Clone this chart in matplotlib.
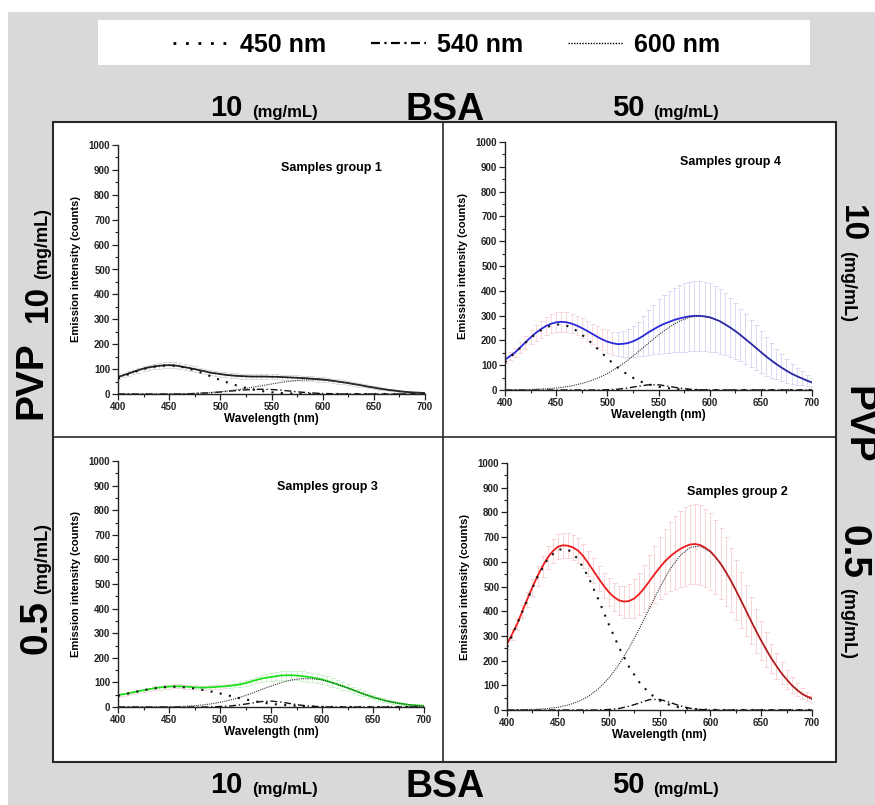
import matplotlib
matplotlib.use("Agg")
import matplotlib.pyplot as plt
from matplotlib.patches import Rectangle
from matplotlib.lines import Line2D
from matplotlib.ticker import MultipleLocator

plt.rcParams['font.family'] = ['Liberation Sans', 'DejaVu Sans']
plt.rcParams['font.weight'] = 'bold'

# wavelength grid of the fitted components (nm)
wl = [400, 410, 420, 430, 440, 450, 460, 470, 480, 490, 500, 510, 520, 530, 540, 550,
      560, 570, 580, 590, 600, 610, 620, 630, 640, 650, 660, 670, 680, 690, 700]
# wavelength grid of the measured spectra / error bars (nm)
wl5 = [400, 405, 410, 415, 420, 425, 430, 435, 440, 445,
       450, 455, 460, 465, 470, 475, 480, 485, 490, 495,
       500, 505, 510, 515, 520, 525, 530, 535, 540, 545,
       550, 555, 560, 565, 570, 575, 580, 585, 590, 595,
       600, 605, 610, 615, 620, 625, 630, 635, 640, 645,
       650, 655, 660, 665, 670, 675, 680, 685, 690, 695,
       700]

# Samples group 1 (BSA 10, PVP 10)
p450_1 = [63, 79, 94, 106, 113, 115, 111, 101, 88, 72, 56, 42, 29, 20, 12, 7, 4, 2, 1, 0,
          0, 0, 0, 0, 0, 0, 0, 0, 0, 0, 0]
p540_1 = [0, 0, 0, 0, 0, 0, 0, 1, 3, 5, 8, 12, 15, 18, 19, 18, 15, 11, 7, 4, 2, 1,
          0, 0, 0, 0, 0, 0, 0, 0, 0]
p600_1 = [0, 0, 0, 0, 0, 1, 1, 2, 4, 6, 9, 14, 19, 26, 33, 40, 47, 52, 56, 57, 56, 52,
          47, 40, 33, 26, 19, 14, 9, 6, 4]
tot_1 = [68, 75, 82, 89, 96, 102, 107, 110, 113, 115,
         116, 115, 112, 108, 104, 100, 95, 91, 86, 83,
         80, 77, 75, 73, 72, 71, 70, 70, 70, 70,
         69, 69, 68, 67, 66, 65, 64, 63, 61, 60,
         58, 56, 53, 50, 47, 44, 40, 37, 33, 29,
         26, 22, 19, 16, 14, 11, 9, 7, 6, 5,
         4]
err_1 = [8, 8, 9, 9, 10, 10, 11, 11, 12, 12,
         12, 12, 12, 12, 11, 11, 10, 10, 10, 10,
         10, 10, 10, 10, 10, 10, 10, 10, 10, 10,
         10, 10, 10, 10, 10, 10, 10, 10, 10, 10,
         10, 9, 9, 9, 8, 8, 7, 7, 6, 6,
         5, 5, 4, 4, 3, 3, 3, 2, 2, 2,
         2]

# Samples group 4 (BSA 50, PVP 10)
p450_4 = [112, 151, 191, 227, 253, 265, 260, 239, 207, 168, 128, 91, 61, 38, 23, 13, 7, 3,
          1, 0, 0, 0, 0, 0, 0, 0, 0, 0, 0, 0, 0]
p540_4 = [0, 0, 0, 0, 0, 0, 0, 0, 0, 0, 1, 3, 8, 15, 21, 21, 15, 8, 3, 1,
          0, 0, 0, 0, 0, 0, 0, 0, 0, 0, 0]
p600_4 = [0, 1, 1, 3, 5, 8, 13, 21, 32, 47, 66, 91, 120, 153, 188, 222, 252, 277, 293, 298,
          293, 277, 252, 222, 188, 153, 120, 91, 66, 47, 32]
tot_4 = [122, 137, 152, 172, 192, 212, 230, 245, 258, 267,
         273, 275, 273, 268, 260, 250, 239, 227, 215, 204,
         195, 189, 185, 186, 189, 196, 206, 218, 232, 244,
         256, 266, 274, 282, 288, 293, 297, 299, 299, 297,
         293, 286, 277, 265, 252, 238, 222, 205, 188, 171,
         153, 136, 120, 105, 91, 78, 66, 56, 47, 38,
         30]
err_4 = [12, 15, 18, 22, 25, 28, 32, 35, 38, 39,
         40, 40, 40, 40, 40, 40, 40, 41, 42, 43,
         45, 46, 48, 51, 55, 62, 70, 80, 90, 100,
         110, 118, 125, 130, 135, 138, 140, 140, 140, 139,
         138, 134, 130, 125, 120, 112, 105, 100, 95, 90,
         85, 78, 70, 62, 55, 48, 40, 34, 28, 23,
         18]

# Samples group 3 (BSA 10, PVP 0.5)
p450_3 = [45, 55, 64, 72, 78, 82, 82, 78, 72, 64, 55, 45, 35, 27, 19, 13, 9, 6, 4, 2, 1,
          0, 0, 0, 0, 0, 0, 0, 0, 0, 0]
p540_3 = [0, 0, 0, 0, 0, 0, 0, 0, 0, 0, 2, 4, 9, 15, 22, 24, 20, 13, 7, 3, 1,
          0, 0, 0, 0, 0, 0, 0, 0, 0, 0]
p600_3 = [0, 0, 0, 0, 1, 1, 2, 4, 7, 12, 19, 28, 40, 54, 70, 85, 99, 110, 115, 115, 110, 99,
          85, 70, 54, 40, 28, 19, 12, 7, 4]
tot_3 = [48, 52, 55, 60, 64, 68, 72, 76, 79, 81,
         83, 84, 84, 83, 82, 80, 79, 79, 80, 81,
         83, 84, 86, 89, 92, 97, 103, 109, 115, 119,
         122, 125, 128, 129, 129, 128, 126, 123, 120, 116,
         112, 106, 99, 92, 85, 78, 70, 62, 54, 47,
         40, 34, 28, 23, 19, 15, 12, 9, 7, 6,
         5]
err_3 = [6, 6, 6, 7, 7, 7, 7, 8, 8, 8,
         8, 8, 8, 8, 8, 8, 8, 8, 8, 8,
         8, 8, 9, 9, 10, 11, 12, 13, 14, 15,
         16, 17, 18, 18, 19, 19, 20, 20, 20, 20,
         19, 18, 17, 16, 15, 14, 13, 12, 11, 10,
         9, 8, 7, 6, 6, 5, 5, 4, 4, 3,
         3]

# Samples group 2 (BSA 50, PVP 0.5)
p450_2 = [255, 348, 447, 539, 611, 650, 650, 611, 539, 447, 348, 255, 175, 113, 68, 39, 21,
          10, 5, 2, 1, 0, 0, 0, 0, 0, 0, 0, 0, 0, 0]
p540_2 = [0, 0, 0, 0, 0, 0, 0, 0, 0, 0, 2, 6, 15, 28, 42, 43, 31, 17, 7, 2,
          0, 0, 0, 0, 0, 0, 0, 0, 0, 0, 0]
p600_2 = [0, 1, 2, 3, 6, 11, 20, 34, 55, 86, 128, 183, 251, 328, 411, 494, 568, 624, 658,
          664, 641, 593, 525, 445, 361, 281, 209, 149, 101, 66, 41]
tot_2 = [268, 307, 349, 399, 449, 497, 542, 582, 617, 643,
         661, 667, 665, 658, 645, 623, 594, 564, 533, 504,
         478, 458, 444, 439, 441, 451, 469, 493, 521, 549,
         576, 600, 620, 637, 651, 662, 670, 672, 668, 657,
         642, 620, 593, 561, 525, 486, 445, 403, 361, 320,
         281, 244, 209, 178, 149, 124, 101, 82, 66, 55,
         48]
err_2 = [20, 22, 25, 28, 30, 35, 40, 42, 45, 48,
         50, 50, 50, 50, 50, 50, 50, 50, 50, 52,
         55, 58, 60, 65, 70, 78, 85, 95, 105, 115,
         125, 132, 140, 148, 155, 158, 160, 160, 160, 158,
         155, 150, 145, 138, 130, 122, 115, 105, 95, 88,
         80, 70, 60, 52, 45, 38, 32, 27, 22, 18,
         15]

W, H = 875, 805
fig = plt.figure(figsize=(W / 100, H / 100), dpi=100, facecolor='white')


def fx(px):
    return px / W


def fy(py):
    return 1 - py / H


def rect(x0, y0, x1, y1, **kw):
    r = Rectangle((fx(x0), fy(y1)), fx(x1) - fx(x0), fy(y0) - fy(y1),
                  transform=fig.transFigure, zorder=-10, **kw)
    fig.add_artist(r)


# background, legend box, big white frame
rect(8, 12, 875, 805, facecolor='#d9d9d9', edgecolor='none')
rect(98, 20, 810, 65, facecolor='white', edgecolor='none')
rect(53, 122, 836, 762, facecolor='white', edgecolor='#2a2a2a', linewidth=1.5)
fig.add_artist(Line2D([fx(443), fx(443)], [fy(122), fy(762)], color='#2a2a2a', lw=1.2,
                      transform=fig.transFigure, zorder=-9))
fig.add_artist(Line2D([fx(53), fx(836)], [fy(437), fy(437)], color='#2a2a2a', lw=1.2,
                      transform=fig.transFigure, zorder=-9))

ls450 = (0, (1, 3.5))
ls540 = (0, (5, 2, 1, 2))
ls600 = (0, (1, 1))

panels = [
    # (x0, x1, ytop, ybottom), title, title pos, data, line colour, error colours
    ((118, 425, 145, 394), 'Samples group 1', (0.694, 0.908),
     (p450_1, p540_1, p600_1, tot_1, err_1), '#222222', ('#d6d6d6', '#d6d6d6')),
    ((505, 812, 142, 390), 'Samples group 4', (0.736, 0.919),
     (p450_4, p540_4, p600_4, tot_4, err_4), '#2a2ad8', ('#f6d2d6', '#d4d4f2')),
    ((118, 424, 461, 707), 'Samples group 3', (0.683, 0.894),
     (p450_3, p540_3, p600_3, tot_3, err_3), '#1fe01f', ('#f2d4d4', '#c9ecc9')),
    ((507, 812, 463, 710), 'Samples group 2', (0.754, 0.883),
     (p450_2, p540_2, p600_2, tot_2, err_2), '#ee1c1c', ('#f7cdd0', '#f7cdd0')),
]

for (x0, x1, yt, yb), title, tpos, data, col, ecols in panels:
    ax = fig.add_axes([fx(x0), fy(yb), fx(x1) - fx(x0), fy(yt) - fy(yb)])
    ax.patch.set_alpha(0)
    p450, p540, p600, tot, err = data
    left = [i for i, w in enumerate(wl5) if w <= 505]
    right = [i for i, w in enumerate(wl5) if w > 505]
    for idx, ec in ((left, ecols[0]), (right, ecols[1])):
        ax.errorbar([wl5[i] for i in idx], [tot[i] for i in idx],
                    yerr=[err[i] for i in idx], fmt='none', ecolor=ec,
                    elinewidth=0.6, capsize=1.8, capthick=0.6, zorder=1)
    ax.plot(wl5, tot, color=col, lw=1.3, zorder=2)
    ax.plot(wl, p450, color='#111111', lw=1.5, ls=ls450, zorder=3)
    ax.plot(wl, p540, color='#111111', lw=1.0, ls=ls540, zorder=3)
    ax.plot(wl, p600, color='#333333', lw=0.8, ls=ls600, zorder=3)

    ax.set_xlim(400, 700)
    ax.set_ylim(0, 1000)
    ax.xaxis.set_major_locator(MultipleLocator(50))
    ax.xaxis.set_minor_locator(MultipleLocator(25))
    ax.yaxis.set_major_locator(MultipleLocator(100))
    ax.yaxis.set_minor_locator(MultipleLocator(50))
    for s in ('top', 'right'):
        ax.spines[s].set_visible(False)
    for s in ('left', 'bottom'):
        ax.spines[s].set_linewidth(1.0)
        ax.spines[s].set_color('#222222')
    ax.tick_params(which='major', direction='out', length=4, width=0.9, labelsize=7,
                   pad=1.5, colors='#222222')
    ax.tick_params(which='minor', direction='out', length=2, width=0.8, colors='#222222')
    for lab in ax.get_xticklabels() + ax.get_yticklabels():
        lab.set_fontweight('bold')
    ax.set_xlabel('Wavelength (nm)', fontsize=8.5, fontweight='bold', labelpad=1)
    ax.set_ylabel('Emission intensity (counts)', fontsize=8, fontweight='bold', labelpad=6)
    ax.text(tpos[0], tpos[1], title, transform=ax.transAxes, ha='center', va='center',
            fontsize=9, fontweight='bold')

# legend
handles = [Line2D([], [], color='black', lw=2.0, ls=(0, (1, 3.5))),
           Line2D([], [], color='black', lw=1.6, ls=(0, (4, 2, 1, 2))),
           Line2D([], [], color='black', lw=1.0, ls=(0, (1, 1)))]
fig.legend(handles, ['450 nm', '540 nm', '600 nm'], loc='center',
           bbox_to_anchor=(fx(447), fy(45)), ncol=3, frameon=False,
           prop={'size': 18, 'weight': 'bold'}, handlelength=2.2, handletextpad=0.45,
           columnspacing=1.8)


def ftext(px, py, s, size, **kw):
    fig.text(fx(px), fy(py), s, fontsize=size, fontweight='bold', **kw)


# BSA labels top and bottom
for yb in (116, 793):
    ftext(243, yb, '10', 21, ha='right', va='baseline')
    ftext(252, yb + 1, '(mg/mL)', 12, ha='left', va='baseline')
    ftext(406, yb + 4, 'BSA', 27, ha='left', va='baseline')
    ftext(645, yb, '50', 21, ha='right', va='baseline')
    ftext(653, yb + 1, '(mg/mL)', 12, ha='left', va='baseline')

# PVP labels left
ftext(47, 285, '10', 24, ha='right', va='baseline', rotation=90, rotation_mode='anchor')
ftext(47, 279, '(mg/mL)', 13, ha='left', va='baseline', rotation=90, rotation_mode='anchor')
ftext(31, 380, 'PVP', 28, ha='center', va='center', rotation=90)
ftext(47, 600, '0.5', 28, ha='right', va='baseline', rotation=90, rotation_mode='anchor')
ftext(47, 594, '(mg/mL)', 13, ha='left', va='baseline', rotation=90, rotation_mode='anchor')

# PVP labels right
ftext(843, 205, '10', 24, ha='left', va='baseline', rotation=-90, rotation_mode='anchor')
ftext(843, 251, '(mg/mL)', 13, ha='left', va='baseline', rotation=-90, rotation_mode='anchor')
ftext(857, 425, 'PVP', 28, ha='center', va='center', rotation=-90)
ftext(843, 525, '0.5', 28, ha='left', va='baseline', rotation=-90, rotation_mode='anchor')
ftext(843, 588, '(mg/mL)', 13, ha='left', va='baseline', rotation=-90, rotation_mode='anchor')

fig.savefig('out.png', dpi=100, facecolor='white')
